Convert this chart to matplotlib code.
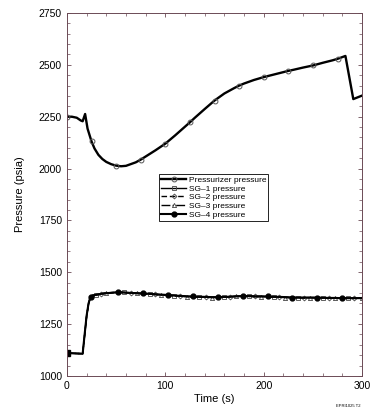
import matplotlib
matplotlib.use('Agg')
import matplotlib.pyplot as plt
import numpy as np

plt.rcParams['font.family'] = ['Liberation Sans', 'DejaVu Sans']

# pressurizer pressure
prz_t = [0, 5, 10, 14, 16, 18.5, 21, 25, 28, 32, 36, 40, 45, 50, 55, 60, 70, 75, 80,
         90, 100, 110, 120, 125, 130, 140, 150, 160, 170, 175, 180, 190, 200, 210,
         220, 225, 230, 240, 250, 260, 270, 275, 283, 291, 300]
prz_p = [2250, 2250, 2245, 2232, 2228, 2263, 2192, 2131, 2097, 2066, 2046, 2032,
         2021, 2014, 2011, 2013, 2030, 2043, 2058, 2088, 2120, 2160, 2202, 2223,
         2245, 2287, 2328, 2362, 2388, 2400, 2410, 2427, 2441, 2453, 2465, 2471,
         2476, 2487, 2497, 2510, 2522, 2529, 2543, 2335, 2352]
prz_marks = [0, 25, 50, 75, 100, 125, 150, 175, 200, 225, 250, 275]

# steam generator pressures
sg_t = [0, 16, 18, 20, 22, 24, 26, 30, 35, 40, 46, 52, 58, 65, 71, 77, 84, 90, 96,
        103, 109, 115, 122, 128, 134, 141, 147, 154, 160, 166, 172, 179, 185, 191,
        197, 204, 210, 216, 222, 229, 235, 241, 247, 254, 260, 266, 272, 280, 286,
        292, 300]
sg4_p = [1110, 1107, 1200, 1290, 1350, 1382, 1388, 1392, 1396, 1399, 1401, 1403,
         1402, 1400, 1399, 1398, 1396, 1394, 1392, 1390, 1388, 1386, 1384, 1383,
         1382, 1381, 1380, 1380, 1381, 1382, 1384, 1385, 1385, 1384, 1384, 1383,
         1382, 1381, 1380, 1378, 1378, 1378, 1378, 1378, 1377, 1376, 1376, 1375,
         1375, 1375, 1375]
sg1_p = [1110, 1107, 1195, 1285, 1348, 1380, 1387, 1391, 1396, 1400, 1402, 1404,
         1403, 1401, 1399, 1397, 1395, 1393, 1391, 1389, 1387, 1385, 1383, 1382,
         1381, 1380, 1379, 1380, 1381, 1383, 1384, 1384, 1384, 1383, 1383, 1382,
         1381, 1380, 1379, 1378, 1378, 1377, 1378, 1377, 1376, 1376, 1375, 1375,
         1374, 1375, 1375]
sg2_p = [1110, 1107, 1198, 1288, 1349, 1381, 1388, 1392, 1397, 1400, 1402, 1403,
         1402, 1400, 1398, 1397, 1395, 1393, 1391, 1389, 1387, 1385, 1383, 1382,
         1381, 1380, 1379, 1379, 1380, 1382, 1383, 1384, 1384, 1383, 1383, 1382,
         1381, 1380, 1379, 1378, 1377, 1377, 1377, 1377, 1376, 1375, 1375, 1374,
         1374, 1374, 1375]
sg3_p = [1110, 1107, 1196, 1286, 1347, 1380, 1386, 1390, 1395, 1398, 1401, 1403,
         1402, 1400, 1398, 1396, 1394, 1392, 1390, 1388, 1386, 1384, 1382, 1381,
         1380, 1379, 1378, 1378, 1380, 1381, 1383, 1384, 1383, 1382, 1382, 1381,
         1380, 1379, 1378, 1377, 1377, 1376, 1377, 1376, 1375, 1375, 1374, 1374,
         1374, 1374, 1375]
sg1_marks = [0, 30, 58, 84, 109, 134, 160, 185, 210, 235, 260, 286]
sg2_marks = [35, 65, 90, 115, 141, 166, 191, 216, 241, 266, 292]
sg3_marks = [40, 71, 96, 122, 147, 172, 197, 222, 247, 272, 300]
sg4_marks = [0, 24, 52, 77, 103, 128, 154, 179, 204, 229, 254, 280]


def idx(t, marks):
    return [i for i, v in enumerate(t) if v in marks]


fig = plt.figure(figsize=(3.89, 4.2), dpi=100)
ax = fig.add_axes([0.172, 0.105, 0.759, 0.864])

ax.plot(prz_t, prz_p, 'k-', lw=1.7, marker='o', ms=3.5, mfc='none', mec='#555555',
        mew=0.7, markevery=idx(prz_t, prz_marks), label='Pressurizer pressure')
ax.plot(sg_t, sg1_p, color='k', lw=1.0, ls='-', marker='s', ms=3, mfc='none',
        mec='#444444', mew=0.6, markevery=idx(sg_t, sg1_marks), label='SG\u20131 pressure')
ax.plot(sg_t, sg2_p, color='k', lw=1.0, ls=(0, (4, 2)), marker='D', ms=2.5, mfc='none',
        mec='#444444', mew=0.6, markevery=idx(sg_t, sg2_marks), label='SG\u20132 pressure')
ax.plot(sg_t, sg3_p, color='k', lw=1.0, ls='-.', marker='^', ms=3, mfc='none',
        mec='#444444', mew=0.6, markevery=idx(sg_t, sg3_marks), label='SG\u20133 pressure')
ax.plot(sg_t, sg4_p, color='k', lw=1.5, ls='-', marker='o', ms=3.5, mfc='k',
        mec='k', markevery=idx(sg_t, sg4_marks), label='SG\u20134 pressure')
ax.plot([0], [sg4_p[0]], 'ks', ms=4)

ax.set_xlim(0, 300)
ax.set_ylim(1000, 2750)
ax.set_xticks([0, 100, 200, 300])
ax.set_xticks(np.arange(0, 301, 20), minor=True)
ax.set_yticks(np.arange(1000, 2751, 250))
ax.set_yticks(np.arange(1000, 2751, 50), minor=True)
ax.tick_params(which='both', direction='in', top=True, right=True,
               color='#6b4a55', labelsize=7.5)
ax.tick_params(which='major', length=3, width=0.6)
ax.tick_params(which='minor', length=2, width=0.5)
for s in ax.spines.values():
    s.set_color('#6b4a55')
    s.set_linewidth(0.7)

ax.set_xlabel('Time (s)', fontsize=8, labelpad=2)
ax.set_ylabel('Pressure (psia)', fontsize=8, labelpad=10)

leg = ax.legend(loc='upper left', bbox_to_anchor=(0.312, 0.556), fontsize=6.0,
                frameon=True, fancybox=False, edgecolor='k', framealpha=1,
                borderpad=0.25, labelspacing=0.1, handlelength=3.0,
                handletextpad=0.3, borderaxespad=0)
leg.get_frame().set_linewidth(0.6)

fig.text(0.895, 0.032, 'EPRI1025 T2', fontsize=3, ha='center')

fig.savefig('out.png', dpi=100)
